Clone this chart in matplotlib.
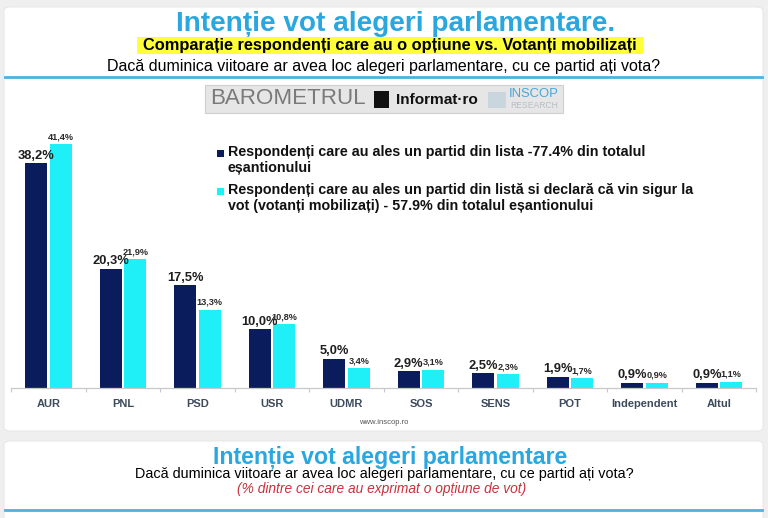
import matplotlib
matplotlib.use("Agg")
import matplotlib.pyplot as plt
from matplotlib import font_manager
from matplotlib.patches import Rectangle, FancyBboxPatch
import numpy as np

# data
parties = ["AUR", "PNL", "PSD", "USR", "UDMR", "SOS", "SENS", "POT", "Independent", "Altul"]
with_option = [38.2, 20.3, 17.5, 10.0, 5.0, 2.9, 2.5, 1.9, 0.9, 0.9]
mobilized = [41.4, 21.9, 13.3, 10.8, 3.4, 3.1, 2.3, 1.7, 0.9, 1.1]

legend_labels = [
    "Respondenți care au ales un partid din lista -77.4% din totalul\neșantionului",
    "Respondenți care au ales un partid din listă si declară că vin sigur la\nvot (votanți mobilizați) - 57.9% din totalul eșantionului",
]

title_top = "Intenție vot alegeri parlamentare."
subtitle_top = "Comparație respondenți care au o opțiune vs. Votanți mobilizați"
question = "Dacă duminica viitoare ar avea loc alegeri parlamentare, cu ce partid ați vota?"
title_bottom = "Intenție vot alegeri parlamentare"
note_bottom = "(% dintre cei care au exprimat o opțiune de vot)"
source = "www.inscop.ro"

NAVY = "#0b1c5c"
CYAN = "#1ff0f8"
BLUE_TITLE = "#2aa7de"
LINE_BLUE = "#4ab4dc"

installed = {f.name for f in font_manager.fontManager.ttflist}
BASE = "Liberation Sans" if "Liberation Sans" in installed else "DejaVu Sans"
plt.rcParams["font.family"] = [BASE, "DejaVu Sans"]

W, H = 768, 518
fig = plt.figure(figsize=(W / 100, H / 100), dpi=100)
fig.patch.set_facecolor("#efefef")
renderer = fig.canvas.get_renderer()


def fx(x):
    return x / W


def fy(y):
    return 1 - y / H


def fitted_text(x, y, s, width_px, **kw):
    # place text and scale its size so it spans the given pixel width
    t = fig.text(fx(x), fy(y), s, ha="center", va="center", **kw)
    w = t.get_window_extent(renderer=renderer).width
    t.set_fontsize(t.get_fontsize() * width_px / w)
    return t


# white panels, kept behind the chart
for (x0, y0, x1, y1) in [(4, 7, 763, 431), (4, 441, 763, 530)]:
    fig.patches.append(FancyBboxPatch((fx(x0), fy(y1)), fx(x1 - x0), (y1 - y0) / H,
                                      boxstyle="round,pad=0,rounding_size=0.008",
                                      transform=fig.transFigure, facecolor="white",
                                      edgecolor="#e4e4e4", linewidth=0.6, zorder=-5))

# top header
fitted_text(396, 24, title_top, 438, fontsize=18, fontweight="bold", color=BLUE_TITLE)
fig.patches.append(Rectangle((fx(137), fy(54)), fx(506), 17 / H, transform=fig.transFigure,
                             facecolor="#ffff3a", edgecolor="none", zorder=1))
fitted_text(390, 45.5, subtitle_top, 492, fontsize=12, fontweight="bold", color="black", zorder=2)
fitted_text(384, 66, question, 552, fontsize=11, color="black")
fig.add_artist(plt.Line2D([fx(5), fx(762)], [fy(77), fy(77)], color=LINE_BLUE, lw=2,
                          transform=fig.transFigure))

# logo strip
fig.patches.append(Rectangle((fx(205), fy(113)), fx(358), 28 / H, transform=fig.transFigure,
                             facecolor="#e6e6e6", edgecolor="#cfcfcf", linewidth=0.8, zorder=1))
fitted_text(288, 99, "BAROMETRUL", 156, fontsize=14, color="#7a7a7a", zorder=2)
fig.patches.append(Rectangle((fx(374), fy(108)), fx(15), 17 / H, transform=fig.transFigure,
                             facecolor="#111111", edgecolor="none", zorder=2))
fitted_text(437, 100, "Informat·ro", 82, fontsize=10, fontweight="bold", color="#111111", zorder=2)
fig.patches.append(Rectangle((fx(488), fy(108)), fx(18), 16 / H, transform=fig.transFigure,
                             facecolor="#c9d6de", edgecolor="none", zorder=2))
fitted_text(534, 94, "INSCOP", 50, fontsize=9, color="#4aa6d8", zorder=2)
fitted_text(534, 106, "RESEARCH", 48, fontsize=6, color="#b9bec2", zorder=2)

# chart
ax = fig.add_axes([fx(11.25), fy(388), fx(745), (388 - 129) / H])
ax.set_facecolor("none")
x = np.arange(len(parties))
bw = 0.30
b1 = ax.bar(x - 0.164, with_option, bw, color=NAVY, zorder=2)
b2 = ax.bar(x + 0.164, mobilized, bw, color=CYAN, zorder=2)
ax.bar_label(b1, labels=[f"{v:.1f}%".replace(".", ",") for v in with_option],
             padding=1, fontsize=9.3, fontweight="bold", color="#1e1e1e")
ax.bar_label(b2, labels=[f"{v:.1f}%".replace(".", ",") for v in mobilized],
             padding=2, fontsize=6.6, fontweight="bold", color="#2a2a2a")
ax.set_xlim(-0.5, len(parties) - 0.5)
ax.set_ylim(0, 44)
ax.set_xticks(x)
ax.set_xticklabels(parties, fontsize=8, fontweight="bold", color="#3d4a5c")
ax.set_xticks(np.arange(-0.5, len(parties), 1), minor=True)
ax.tick_params(axis="x", which="major", length=0, pad=8)
ax.tick_params(axis="x", which="minor", length=3, color="#c8c8c8", width=0.8)
ax.set_yticks([])
for side in ["top", "right", "left"]:
    ax.spines[side].set_visible(False)
ax.spines["bottom"].set_color("#c8c8c8")
ax.spines["bottom"].set_linewidth(0.9)

# legend: square key beside the first line of each two-line label
probe = fig.text(0, 0, legend_labels[0].split("\n")[0], fontsize=10, fontweight="bold")
leg_size = 10 * 415 / probe.get_window_extent(renderer=renderer).width
probe.remove()
for label, colour, y_first in zip(legend_labels, [NAVY, CYAN], [153, 191]):
    fig.patches.append(Rectangle((fx(217), fy(y_first + 3.5)), fx(7), 7 / H,
                                 transform=fig.transFigure, facecolor=colour,
                                 edgecolor="none"))
    fig.text(fx(228), fy(y_first - 8), label, ha="left", va="top", fontsize=leg_size,
             fontweight="bold", color="#111111", linespacing=1.17)

fig.text(fx(384), fy(423), source, ha="center", va="center", fontsize=5.5, color="#555555")

# bottom panel header
fitted_text(390, 457, title_bottom, 355, fontsize=16, fontweight="bold", color=BLUE_TITLE)
fitted_text(384, 474, question, 500, fontsize=10, color="black")
fitted_text(382, 489, note_bottom, 290, fontsize=9, style="italic", color="#c8313a")
fig.add_artist(plt.Line2D([fx(5), fx(762)], [fy(510), fy(510)], color=LINE_BLUE, lw=2,
                          transform=fig.transFigure))

fig.savefig("out.png", dpi=100, facecolor=fig.get_facecolor())
